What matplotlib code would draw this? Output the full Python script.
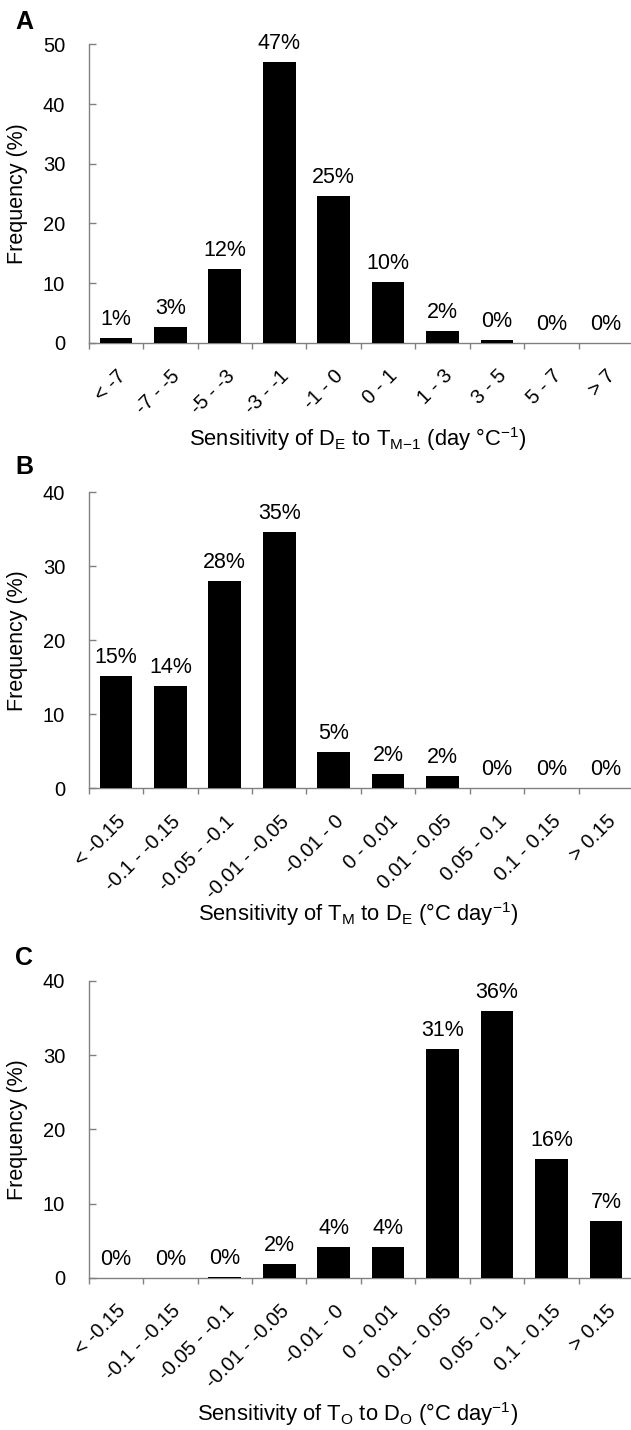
import matplotlib
matplotlib.use('Agg')
import matplotlib.pyplot as plt
import matplotlib.transforms as mtransforms
import numpy as np

plt.rcParams['font.family'] = ['Liberation Sans', 'DejaVu Sans']
plt.rcParams['mathtext.fontset'] = 'custom'
plt.rcParams['mathtext.rm'] = 'Liberation Sans'
plt.rcParams['mathtext.it'] = 'Liberation Sans:italic'

# data
cats_a = ['< -7', '-7 - -5', '-5 - -3', '-3 - -1', '-1 - 0', '0 - 1', '1 - 3', '3 - 5', '5 - 7', '> 7']
vals_a = [0.85, 2.6, 12.3, 47.0, 24.6, 10.15, 1.9, 0.4, 0, 0]
labs_a = ['1%', '3%', '12%', '47%', '25%', '10%', '2%', '0%', '0%', '0%']

cats_bc = ['< -0.15', '-0.1 - -0.15', '-0.05 - -0.1', '-0.01 - -0.05', '-0.01 - 0',
           '0 - 0.01', '0.01 - 0.05', '0.05 - 0.1', '0.1 - 0.15', '> 0.15']
vals_b = [15.2, 13.8, 28.0, 34.6, 4.9, 1.95, 1.7, 0, 0, 0]
labs_b = ['15%', '14%', '28%', '35%', '5%', '2%', '2%', '0%', '0%', '0%']
vals_c = [0, 0, 0.15, 1.8, 4.1, 4.1, 30.8, 36.0, 16.0, 7.6]
labs_c = ['0%', '0%', '0%', '2%', '4%', '4%', '31%', '36%', '16%', '7%']

xlab_a = r'Sensitivity of D$_\mathrm{E}$ to T$_\mathrm{M{-}1}$ (day °C$^\mathrm{{-}1}$)'
xlab_b = r'Sensitivity of T$_\mathrm{M}$ to D$_\mathrm{E}$ (°C day$^\mathrm{{-}1}$)'
xlab_c = r'Sensitivity of T$_\mathrm{O}$ to D$_\mathrm{O}$ (°C day$^\mathrm{{-}1}$)'

H = 1430.0
W = 631.0
fig = plt.figure(figsize=(6.31, 14.3), dpi=100)

# (top px, bottom px, ymax, xlabel offset px, letter y px)
panels = [
    ('A', cats_a, vals_a, labs_a, xlab_a, 44.3, 342.8, 50, 96, 21.7),
    ('B', cats_bc, vals_b, labs_b, xlab_b, 492.3, 788.3, 40, 126, 466.7),
    ('C', cats_bc, vals_c, labs_c, xlab_c, 981.0, 1277.7, 40, 136, 958.0),
]

grey = '#808080'
for letter, cats, vals, labs, xlab, top, bot, ymax, xoff, ly in panels:
    ax = fig.add_axes([88.7 / W, 1 - bot / H, 544.4 / W, (bot - top) / H])
    x = np.arange(len(cats))
    ax.bar(x, vals, width=0.6, color='black', zorder=3)
    for xi, v, t in zip(x, vals, labs):
        ax.annotate(t, (xi, v), xytext=(0, 9.4), textcoords='offset points',
                    ha='center', va='baseline', fontsize=15.5)
    ax.set_xlim(-0.5, len(cats) - 0.5)
    ax.set_ylim(0, ymax)
    ax.set_yticks(np.arange(0, ymax + 1, 10))
    ax.set_xticks(x)
    ax.set_xticks(np.arange(len(cats)) - 0.5, minor=True)
    ax.set_xticklabels(cats, rotation=45, ha='right', va='top',
                       rotation_mode='anchor', fontsize=14.5)
    shift = mtransforms.ScaledTranslation(-12.5 / 100, 0, fig.dpi_scale_trans)
    for lab in ax.get_xticklabels():
        lab.set_transform(lab.get_transform() + shift)
    ax.tick_params(axis='x', which='major', length=0, pad=16.9)
    ax.tick_params(axis='x', which='minor', length=4.3, width=1, color=grey, direction='out')
    ax.tick_params(axis='y', direction='in', length=4.8, width=1, color=grey,
                   pad=17, labelsize=14.5)
    for s in ['top', 'right']:
        ax.spines[s].set_visible(False)
    for s in ['left', 'bottom']:
        ax.spines[s].set_color(grey)
        ax.spines[s].set_linewidth(1)
    ax.text((18 - 88.7) / 544.4, 0.5, 'Frequency (%)', rotation=90, ha='center',
            va='center', transform=ax.transAxes, fontsize=15.5)
    ax.text((358 - 88.7) / 544.4, -xoff / (bot - top), xlab, ha='center', va='center',
            transform=ax.transAxes, fontsize=15.8)
    fig.text(15 / W, 1 - ly / H, letter, ha='left', va='center', fontsize=18,
             fontweight='bold')

fig.savefig('out.png', dpi=100)
